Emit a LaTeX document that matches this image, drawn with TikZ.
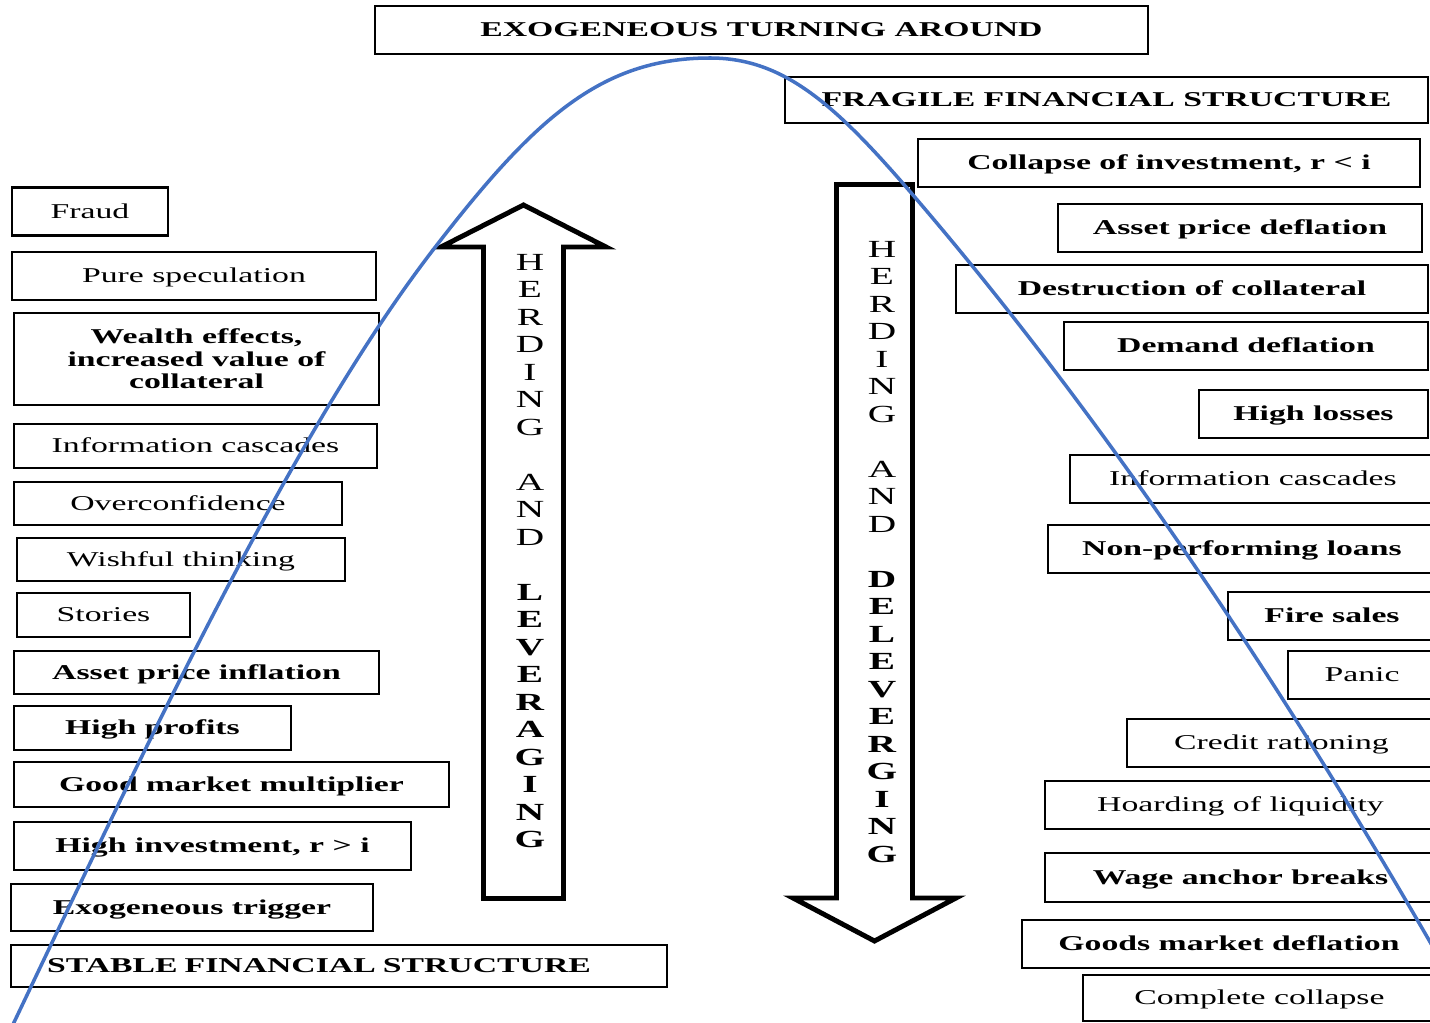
\documentclass[tikz,border=0pt]{standalone}
\usepackage{fontspec}
\setmainfont{Liberation Serif}[FakeStretch=1.6]
\usepackage{tikz}
\definecolor{curveblue}{RGB}{68,114,196}

\begin{document}
\begin{tikzpicture}[
  x=0.02cm,y=-0.02cm,
  font=\fontsize{12}{13}\selectfont,
  frame/.style={draw=black,line width=1.5pt,align=center,inner sep=2pt,
              minimum height=0.96cm},
  box/.style={frame,text height=10.9pt,text depth=3pt},
  strong/.style={box,font=\fontsize{12}{12.8}\selectfont\bfseries},
  bigarrow/.style={draw=black,line width=2.8pt,line join=miter},
  stack/.style={align=center,inner sep=0pt,font=\fontsize{14}{15.65}\selectfont},
  curve/.style={draw=curveblue,line width=2pt}
]
\useasboundingbox (0,0) rectangle (1430,1023);
% ---------- top ----------
\node[strong,minimum width=15.46cm] (turning) at (761.5,30) {EXOGENEOUS TURNING AROUND};
\node[strong,minimum width=12.86cm,minimum height=0.92cm] (fragile) at (1106.5,100) {FRAGILE FINANCIAL STRUCTURE};
% ---------- left column: boom ----------
\node[box,minimum width=3.12cm] (fraud) at (90,211.5) {Fraud};
\node[box,minimum width=7.28cm] (spec) at (194,276) {Pure speculation};
\node[frame,font=\fontsize{12}{12.8}\selectfont\bfseries,minimum width=7.3cm,minimum height=1.84cm]
  (wealth) at (196.5,359) {Wealth effects,\\increased value of\\collateral};
\node[box,minimum width=7.26cm,minimum height=0.88cm] (cascL) at (195.5,446) {Information cascades};
\node[box,minimum width=6.56cm,minimum height=0.86cm] (overconf) at (178,503.5) {Overconfidence};
\node[box,minimum width=6.56cm,minimum height=0.86cm] (wishful) at (181,559.5) {Wishful thinking};
\node[box,minimum width=3.46cm,minimum height=0.88cm] (stories) at (103.5,615) {Stories};
\node[strong,minimum width=7.3cm,minimum height=0.86cm] (assetinf) at (196.5,672.5) {Asset price inflation};
\node[strong,minimum width=5.54cm,minimum height=0.88cm] (profits) at (152.5,728) {High profits};
\node[strong,minimum width=8.7cm,minimum height=0.9cm] (multiplier) at (231.5,784.5) {Good market multiplier};
\node[strong,minimum width=7.94cm] (highinv) at (212.5,846) {High investment, r > i};
\node[strong,minimum width=7.24cm,minimum height=0.94cm] (trigger) at (192,907.5) {Exogeneous trigger};
\node[strong,minimum width=13.12cm,minimum height=0.84cm,text width=11.68cm,inner xsep=0.72cm,
      align=left] (stable) at (339,966) {STABLE FINANCIAL STRUCTURE};
% ---------- right column: bust ----------
\node[strong,minimum width=10.04cm] (collapse) at (1169,163) {Collapse of investment, r < i};
\node[strong,minimum width=7.28cm] (assetdef) at (1240,228) {Asset price deflation};
\node[strong,minimum width=9.44cm] (destruct) at (1192,289) {Destruction of collateral};
\node[strong,minimum width=7.28cm] (demand) at (1246,346) {Demand deflation};
\node[strong,minimum width=4.58cm] (losses) at (1313.5,414) {High losses};
\node[box,minimum width=7.32cm] (cascR) at (1253,479) {Information cascades};
\node[strong,minimum width=7.76cm] (npl) at (1242,549) {Non-performing loans};
\node[strong,minimum width=4.16cm] (fire) at (1332,616) {Fire sales};
\node[box,minimum width=2.96cm] (panic) at (1362,675) {Panic};
\node[box,minimum width=6.18cm] (credit) at (1281.5,743) {Credit rationing};
\node[box,minimum width=7.82cm] (hoard) at (1240.5,805) {Hoarding of liquidity};
\node[strong,minimum width=7.82cm,minimum height=0.98cm] (wage) at (1240.5,877.5) {Wage anchor breaks};
\node[strong,minimum width=8.28cm] (goods) at (1229,944) {Goods market deflation};
\node[box,minimum width=7.06cm,minimum height=0.92cm] (complete) at (1259.5,998) {Complete collapse};
% ---------- big arrows ----------
\draw[bigarrow] (483.5,898.5) -- (483.5,247) -- (441,247) -- (523.5,205) -- (606,247)
  -- (563.5,247) -- (563.5,898.5) -- cycle;
\draw[bigarrow] (836.5,184.5) -- (912.5,184.5) -- (912.5,898) -- (956,898) -- (874.5,941)
  -- (793,898) -- (836.5,898) -- cycle;
\node[stack] (upword) at (530,551)
  {H\\E\\R\\D\\I\\N\\G\\[15.65pt]A\\N\\D\\[15.65pt]\textbf{L}\\\textbf{E}\\\textbf{V}\\\textbf{E}\\\textbf{R}\\
   \textbf{A}\\\textbf{G}\\\textbf{I}\\\textbf{N}\\\textbf{G}};
\node[stack] (downword) at (882,552)
  {H\\E\\R\\D\\I\\N\\G\\[15.65pt]A\\N\\D\\[15.65pt]\textbf{D}\\\textbf{E}\\\textbf{L}\\\textbf{E}\\\textbf{V}\\
   \textbf{E}\\\textbf{R}\\\textbf{G}\\\textbf{I}\\\textbf{N}\\\textbf{G}};
% ---------- cycle curve ----------
\draw[curve] (8,1035) .. controls (148,741) and (293,432) .. (433,250)
  .. controls (533,120) and (600,58) .. (710,58)
  .. controls (780,58) and (830,100) .. (900,180)
  .. controls (1080,387) and (1265,653) .. (1445,968);
\end{tikzpicture}
\end{document}
